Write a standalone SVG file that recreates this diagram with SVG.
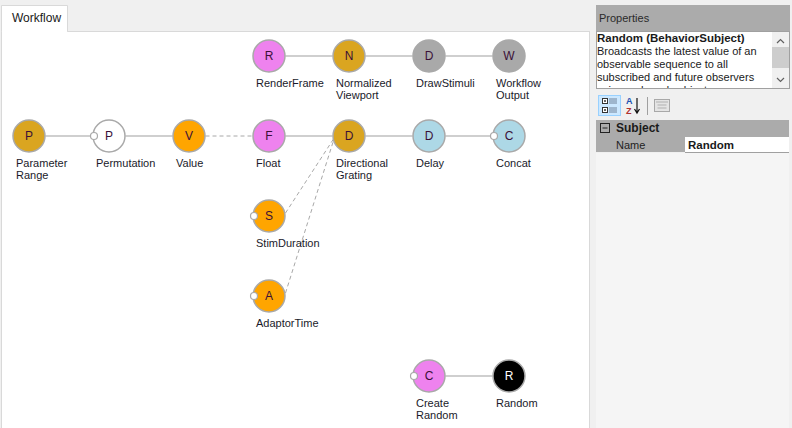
<svg xmlns="http://www.w3.org/2000/svg" width="792" height="428" viewBox="0 0 792 428">
<style>
text{font-family:"Liberation Sans",Arial,sans-serif;font-size:11px;fill:#1a1a1a}
.lbl{fill:#1a1a2a}
.ltr{text-anchor:middle;font-size:12px;fill:#3a1038}
.node{stroke:#a9a9a9;stroke-width:1.5}
.port{fill:#fff;stroke:#a9a9a9;stroke-width:1.2}
.edge{stroke:#a0a0a0;stroke-width:1.2;fill:none}
.dash{stroke:#a8a8a8;stroke-width:1;stroke-dasharray:4 3;fill:none}
.b{font-weight:bold}
</style>
<rect x="0" y="0" width="792" height="428" fill="#f0f0f0"/>
<!-- canvas -->
<rect x="1.5" y="31.5" width="588" height="400" fill="#fff" stroke="#d9d9d9"/>
<path d="M1.5 31.5 V5.5 H67.5 V31.5" fill="#fff" stroke="#d9d9d9"/>
<rect x="2" y="30" width="65" height="3" fill="#fff"/>
<text x="12" y="22" style="font-size:12px">Workflow</text>

<g id="connectors">
<line class="edge" x1="285.5" y1="56" x2="332.5" y2="56"/>
<line class="edge" x1="365.5" y1="56" x2="412.5" y2="56"/>
<line class="edge" x1="445.5" y1="56" x2="492.5" y2="56"/>
<line class="edge" x1="45.5" y1="136" x2="91" y2="136"/>
<line class="edge" x1="125.5" y1="136" x2="172.5" y2="136"/>
<line class="dash" x1="205.5" y1="136" x2="252.5" y2="136"/>
<line class="edge" x1="285.5" y1="136" x2="332.5" y2="136"/>
<line class="edge" x1="365.5" y1="136" x2="412.5" y2="136"/>
<line class="edge" x1="445.5" y1="136" x2="491" y2="136"/>
<line class="dash" x1="285.5" y1="213" x2="333.5" y2="139"/>
<line class="dash" x1="285.5" y1="293" x2="334" y2="139"/>
<line class="edge" x1="445.5" y1="376" x2="492.5" y2="376"/>
</g>

<g id="n-renderframe"><circle class="node" cx="269" cy="56" r="16" fill="#ee82ee"/><text class="ltr" x="269" y="60">R</text><text class="lbl" x="256" y="87">RenderFrame</text></g>
<g id="n-normalizedviewport"><circle class="node" cx="349" cy="56" r="16" fill="#daa520"/><text class="ltr" x="349" y="60">N</text><text class="lbl" x="336" y="87">Normalized</text><text class="lbl" x="336" y="99">Viewport</text></g>
<g id="n-drawstimuli"><circle class="node" cx="429" cy="56" r="16" fill="#a9a9a9"/><text class="ltr" x="429" y="60">D</text><text class="lbl" x="416" y="87">DrawStimuli</text></g>
<g id="n-workflowoutput"><circle class="node" cx="509" cy="56" r="16" fill="#a9a9a9"/><text class="ltr" x="509" y="60">W</text><text class="lbl" x="496" y="87">Workflow</text><text class="lbl" x="496" y="99">Output</text></g>

<g id="n-parameterrange"><circle class="node" cx="29" cy="136" r="16" fill="#daa520"/><text class="ltr" x="29" y="140">P</text><text class="lbl" x="16" y="167">Parameter</text><text class="lbl" x="16" y="179">Range</text></g>
<g id="n-permutation"><circle class="node" cx="109" cy="136" r="16" fill="#fff"/><circle class="port" cx="94" cy="136" r="3.5"/><text class="ltr" x="109" y="140">P</text><text class="lbl" x="96" y="167">Permutation</text></g>
<g id="n-value"><circle class="node" cx="189" cy="136" r="16" fill="#ffa500"/><text class="ltr" x="189" y="140">V</text><text class="lbl" x="176" y="167">Value</text></g>
<g id="n-float"><circle class="node" cx="269" cy="136" r="16" fill="#ee82ee"/><text class="ltr" x="269" y="140">F</text><text class="lbl" x="256" y="167">Float</text></g>
<g id="n-directionalgrating"><circle class="node" cx="349" cy="136" r="16" fill="#daa520"/><text class="ltr" x="349" y="140">D</text><text class="lbl" x="336" y="167">Directional</text><text class="lbl" x="336" y="179">Grating</text></g>
<g id="n-delay"><circle class="node" cx="429" cy="136" r="16" fill="#add8e6"/><text class="ltr" x="429" y="140">D</text><text class="lbl" x="416" y="167">Delay</text></g>
<g id="n-concat"><circle class="node" cx="509" cy="136" r="16" fill="#add8e6"/><circle class="port" cx="494" cy="136" r="3.5"/><text class="ltr" x="509" y="140">C</text><text class="lbl" x="496" y="167">Concat</text></g>

<g id="n-stimduration"><circle class="node" cx="269" cy="216" r="16" fill="#ffa500"/><circle class="port" cx="254" cy="216" r="3.5"/><text class="ltr" x="269" y="220">S</text><text class="lbl" x="256" y="247">StimDuration</text></g>
<g id="n-adaptortime"><circle class="node" cx="269" cy="296" r="16" fill="#ffa500"/><circle class="port" cx="254" cy="296" r="3.5"/><text class="ltr" x="269" y="300">A</text><text class="lbl" x="256" y="327">AdaptorTime</text></g>

<g id="n-createrandom"><circle class="node" cx="429" cy="376" r="16" fill="#ee82ee"/><circle class="port" cx="414" cy="376" r="3.5"/><text class="ltr" x="429" y="380">C</text><text class="lbl" x="416" y="407">Create</text><text class="lbl" x="416" y="419">Random</text></g>
<g id="n-random"><circle class="node" cx="509" cy="376" r="16" fill="#000"/><text class="ltr" x="509" y="380" style="fill:#fff">R</text><text class="lbl" x="496" y="407">Random</text></g>

<!-- properties panel -->
<g id="properties">
<rect x="596" y="5" width="194" height="26" fill="#ababab"/>
<text x="599" y="22" style="fill:#2a2a2a">Properties</text>
<rect x="596.5" y="31.5" width="193" height="57" fill="#fff" stroke="#a0a0a0"/>
<svg x="597" y="32" width="175" height="56">
<text class="b" x="0" y="10" style="font-size:11.5px">Random (BehaviorSubject)</text>
<text x="0" y="23">Broadcasts the latest value of an</text>
<text x="0" y="36">observable sequence to all</text>
<text x="0" y="49">subscribed and future observers</text>
<text x="0" y="62">using a shared subject.</text>
</svg>
<rect x="772" y="32" width="17" height="56" fill="#f0f0f0"/>
<rect x="772" y="47" width="17" height="21" fill="#cdcdcd"/>
<path d="M777 43 L780.5 39.5 L784 43" fill="none" stroke="#606060" stroke-width="1.2"/>
<path d="M777 78 L780.5 81.5 L784 78" fill="none" stroke="#606060" stroke-width="1.2"/>
<rect x="598.5" y="95.5" width="22" height="20" fill="#cce8ff" stroke="#99d1ff"/>
<rect x="602.5" y="98.5" width="5" height="5" fill="#fff" stroke="#333"/>
<rect x="602.5" y="107.5" width="5" height="5" fill="#fff" stroke="#333"/>
<path d="M604 101h2M605 100v2M604 110h2M605 109v2" stroke="#333"/>
<path d="M609 99h8M609 101h8M609 103h8M609 108h8M609 110h8M609 112h8" stroke="#5a6a80" stroke-width="0.8"/>
<text x="626" y="104" style="font-size:9px;fill:#2050b0;font-weight:bold">A</text>
<text x="626" y="114" style="font-size:9px;fill:#b03030;font-weight:bold">Z</text>
<path d="M637 98 V112 M634.5 109 L637 113 L639.5 109" fill="none" stroke="#111" stroke-width="1.2"/>
<line x1="647.5" y1="97" x2="647.5" y2="115" stroke="#a0a0a0"/>
<rect x="654.5" y="99.5" width="15" height="12" fill="#e4e4e4" stroke="#a8a8a8"/>
<path d="M656 102h12M657.5 105h9M657.5 108h9" stroke="#b0b0b0"/>
<rect x="596" y="120" width="193" height="17" fill="#ababab"/>
<rect x="600.5" y="123.5" width="9" height="9" fill="none" stroke="#222"/>
<line x1="602.5" y1="128" x2="607.5" y2="128" stroke="#222"/>
<text class="b" x="616" y="132" style="font-size:12px">Subject</text>
<rect x="596" y="137" width="89" height="15" fill="#ababab"/>
<rect x="685" y="137" width="104" height="15" fill="#fff"/>
<text x="616" y="149" style="fill:#222">Name</text>
<text class="b" x="688" y="149" style="font-size:11.5px">Random</text>
<line x1="685" y1="152.5" x2="789" y2="152.5" stroke="#a0a0a0"/>
<rect x="596" y="153" width="193" height="275" fill="#f5f5f5"/>
</g>
</svg>
